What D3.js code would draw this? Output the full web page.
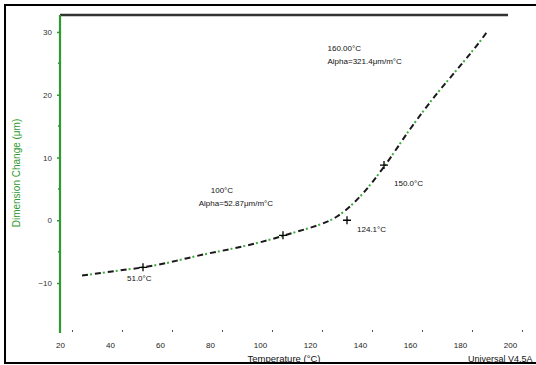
<!DOCTYPE html>
<html>
<head>
<meta charset="utf-8">
<script src="https://cdn.jsdelivr.net/npm/d3@7"></script>
<style>
  body { margin: 0; background: #fff; }
  svg { display: block; font-family: "Liberation Sans", Arial, sans-serif; }
</style>
</head>
<body>
<svg id="chart" width="536" height="365"></svg>
<script>
// TMA curve
const tempC = [28.8, 36.4, 43.6, 53.2, 62.8, 69.2, 78.0, 88.0, 96.0, 104.8, 113.2, 120.0, 125.2, 130.8, 136.0, 141.2, 149.2, 160.0, 169.2, 178.8, 183.2, 188.0, 190.8];
const dimChange = [-8.8, -8.4, -8.0, -7.5, -6.8, -6.2, -5.4, -4.6, -3.9, -3.0, -2.0, -1.2, -0.5, 0.6, 2.2, 4.3, 8.3, 14.5, 19.4, 24.0, 26.1, 28.5, 30.0];

const xTicks = [20, 40, 60, 80, 100, 120, 140, 160, 180, 200];
const yTicks = [-10, 0, 10, 20, 30];

// annotation markers on the curve
const markTemp = [53.2, 109.2, 134.8, 149.6];
const markDim = [-7.5, -2.4, 0.0, 8.8];
const markLabel = ["51.0°C", "", "124.1°C", "150.0°C"];

// CTE annotations
const cteRange = ["100°C", "160.00°C"];
const cteAlpha = ["Alpha=52.87μm/m°C", "Alpha=321.4μm/m°C"];
const cteAt = [[75.5, 4.3], [127, 27.0]];

const svg = d3.select("#chart");
const x = d3.scaleLinear().domain([20, 200]).range([60, 510]);
const y = d3.scaleLinear().domain([-17.8, 32.7]).range([332, 15]);
const green = "#2f9a2f";

// outer frame
svg.append("rect").attr("x", 5).attr("y", 5).attr("width", 560).attr("height", 358)
  .attr("fill", "none").attr("stroke", "#000").attr("stroke-width", 2);

// top border of plot
svg.append("line").attr("x1", 60).attr("x2", 508).attr("y1", 15).attr("y2", 15)
  .attr("stroke", "#333").attr("stroke-width", 2.5);

// y axis (green)
const yAxis = svg.append("g").attr("transform", "translate(60,0)")
  .call(d3.axisLeft(y).tickValues(yTicks).tickSize(3).tickFormat(d3.format("d")));
yAxis.select(".domain").attr("stroke", green).attr("stroke-width", 2.2).attr("d", "M0,15V333");
yAxis.selectAll(".tick line").attr("stroke", green).attr("stroke-width", 1.5);
yAxis.selectAll(".tick text").attr("fill", "#333").attr("font-size", 8).attr("x", -8);
yAxis.selectAll(".minor").data(yTicks.slice(0, -1).map(d => d + 5)).enter().append("line")
  .attr("x1", -2).attr("x2", 0).attr("y1", d => y(d)).attr("y2", d => y(d))
  .attr("stroke", green).attr("stroke-width", 1.5);

svg.append("text").attr("transform", "translate(20,173) rotate(-90)")
  .attr("text-anchor", "middle").attr("font-size", 10).attr("fill", green)
  .text("Dimension Change (μm)");

// x axis: only small ticks and labels
const xAxis = svg.append("g").attr("transform", "translate(0,332)")
  .call(d3.axisBottom(x).tickValues(xTicks).tickSize(2).tickPadding(8).tickFormat(d3.format("d")));
xAxis.select(".domain").remove();
xAxis.selectAll(".tick line").attr("stroke", "#555").attr("transform", "translate(12,-2)");
xAxis.selectAll(".tick text").attr("fill", "#222").attr("font-size", 8);

svg.append("text").attr("x", 284).attr("y", 362).attr("text-anchor", "middle")
  .attr("font-size", 9.5).attr("fill", "#111").text("Temperature (°C)");
svg.append("text").attr("x", 468).attr("y", 362)
  .attr("font-size", 9).attr("fill", "#111").text("Universal V4.5A");

// curve
const pts = tempC.map((t, i) => [t, dimChange[i]]);
const line = d3.line().x(d => x(d[0])).y(d => y(d[1])).curve(d3.curveMonotoneX);
svg.append("path").attr("d", line(pts)).attr("fill", "none")
  .attr("stroke", "#1a1a1a").attr("stroke-width", 2).attr("stroke-dasharray", "6,7");
svg.append("path").attr("d", line(pts)).attr("fill", "none")
  .attr("stroke", "#3cae3c").attr("stroke-width", 2).attr("stroke-dasharray", "2,11")
  .attr("stroke-dashoffset", -8);

// markers
const marks = svg.append("g");
markTemp.forEach((t, i) => {
  const cx = x(t), cy = y(markDim[i]);
  marks.append("path").attr("d", `M${cx - 4},${cy}H${cx + 4}M${cx},${cy - 4}V${cy + 4}`)
    .attr("stroke", "#000").attr("stroke-width", 1.3);
  if (markLabel[i]) {
    marks.append("text").attr("x", cx + (i === 0 ? -16 : 10)).attr("y", cy + (i === 0 ? 14 : i === 3 ? 21 : 12))
      .attr("font-size", 8).attr("fill", "#111").text(markLabel[i]);
  }
});

// CTE text blocks
cteAt.forEach((p, i) => {
  const g = svg.append("g").attr("transform", `translate(${x(p[0])},${y(p[1])})`);
  g.append("text").attr("x", i === 0 ? 12 : 0).attr("y", 0).attr("font-size", 8).attr("fill", "#111").text(cteRange[i]);
  g.append("text").attr("x", 0).attr("y", 13).attr("font-size", 8).attr("fill", "#111").text(cteAlpha[i]);
});
</script>
</body>
</html>
